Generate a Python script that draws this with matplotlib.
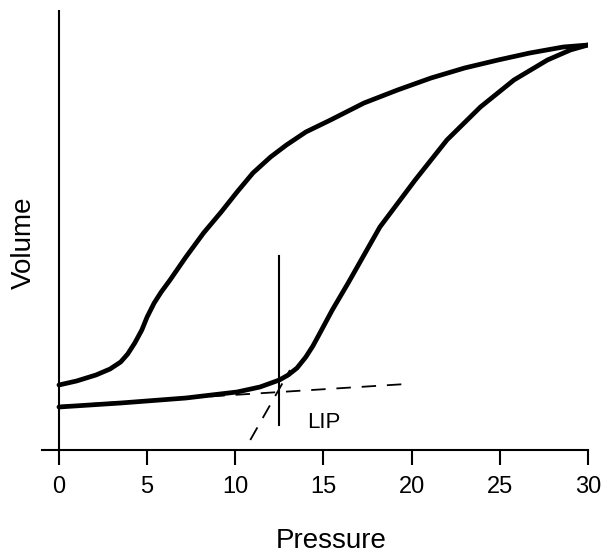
import numpy as np
import matplotlib
matplotlib.use("Agg")
import matplotlib.pyplot as plt

plt.rcParams['font.family'] = ['Liberation Sans', 'DejaVu Sans']

# deflation limb (upper curve), pressure vs volume (arbitrary units)
defl_p = [0, 1.0, 2.1, 2.9, 3.5, 3.9, 4.3, 4.7, 5.0, 5.4, 5.8, 6.3, 7.2, 8.2,
          9.2, 10.1, 11.0, 12.0, 12.9, 14.0, 15.4, 17.3, 19.2, 21.1, 23.0,
          24.9, 26.7, 28.6, 30.0]
defl_v = [65, 69, 75, 81, 88, 96, 107, 120, 133, 147, 158, 170, 193, 217,
          238, 258, 277, 293, 305, 318, 330, 347, 360, 372, 382,
          390, 397, 403, 405]

# inflation limb (lower curve)
infl_p = [0, 3.5, 7.2, 10.1, 11.4, 12.5, 13.0, 13.5, 14.0, 14.4, 14.8, 15.5,
          16.4, 18.2, 20.2, 22.0, 23.9, 25.8, 27.7, 29.0, 30.0]
infl_v = [43, 47, 52, 58, 63, 70, 75, 82, 93, 104, 117, 140,
          167, 223, 270, 310, 343, 370, 390, 400, 405]

# tangent lines used to find the lower inflection point
flat_p = [0, 19.7]
flat_v = [44, 66]
steep_p = [10.85, 13.1]
steep_v = [10, 80]

lip_p = 12.5
lip_v = [25, 194]

xticks = [0, 5, 10, 15, 20, 25, 30]

fig = plt.figure(figsize=(6.11, 5.53), dpi=100)
ax = fig.add_axes([42 / 611, 103 / 553, 546 / 611, 440 / 553])

ax.plot(defl_p, defl_v, color='k', lw=3.4, solid_capstyle='round',
        solid_joinstyle='round')
ax.plot(infl_p, infl_v, color='k', lw=3.4, solid_capstyle='round',
        solid_joinstyle='round')
ax.plot(flat_p, flat_v, color='k', lw=1.3, ls=(0, (8, 6)))
ax.plot(steep_p, steep_v, color='k', lw=1.3, ls=(0, (8, 6)))
ax.plot([lip_p, lip_p], lip_v, color='k', lw=1.5)
ax.text(14.1, 28, 'LIP', fontsize=16, ha='left', va='center')

ax.axvline(0, color='k', lw=1.5)

ax.set_xlim(-0.96, 30.0)
ax.set_ylim(0, 440)
for s in ['top', 'right', 'left']:
    ax.spines[s].set_visible(False)
ax.spines['bottom'].set_linewidth(1.5)

ax.set_xticks(xticks)
ax.set_xticklabels([str(t) for t in xticks])
ax.tick_params(axis='x', direction='out', length=11, width=1.5, pad=8,
               labelsize=17)
ax.set_yticks([])

fig.text(331 / 611, 1 - 548 / 553, 'Pressure', fontsize=20,
         ha='center', va='baseline')
fig.text(24 / 611, 1 - 243 / 553, 'Volume', fontsize=20, rotation=90,
         ha='center', va='center')

fig.savefig('out.png', dpi=100)
